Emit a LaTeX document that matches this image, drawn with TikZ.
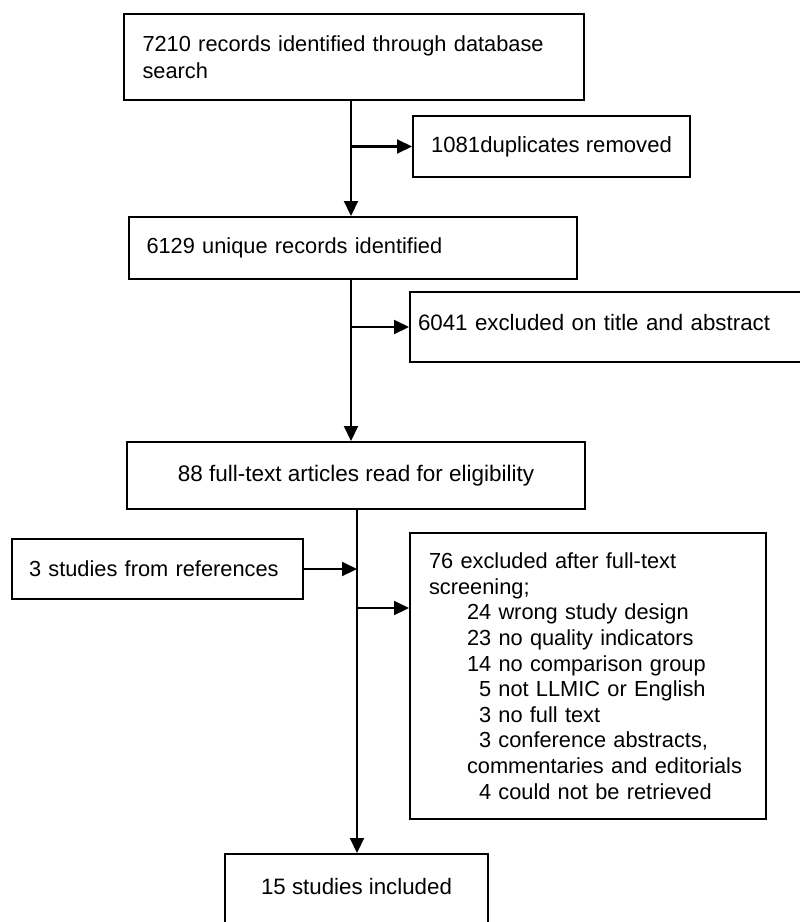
\documentclass[tikz,border=0pt]{standalone}
\usepackage{fontspec}
\setmainfont{Liberation Sans}
\usepackage{tikz}
\usetikzlibrary{arrows.meta}
\tikzstyle{es} = [-{Triangle[length=15pt,width=14pt]}, line width=2.1pt]
\tikzstyle{bx} = [draw, line width=2pt, anchor=north west, inner ysep=0pt, font=\fontsize{21.8}{26.5}\selectfont]

\begin{document}
\begin{tikzpicture}[yscale=-1]
			\path[use as bounding box, clip] (0pt,0pt) rectangle (800pt,922pt);
			\node[bx, text width=423pt, inner xsep=18.5pt, align=left, minimum height=86pt] (rec) at (123pt,13pt) {\mbox{7210 records identified through database}\\search};
			\node[bx, inner xsep=0pt, minimum width=277pt, minimum height=61pt, font=\fontsize{22.1}{26.5}\selectfont] (dup) at (412pt,115pt) {1081duplicates removed};
			\node[bx, text width=413pt, inner xsep=17.5pt, align=left, minimum height=62pt] (uniq) at (128pt,216pt) {\mbox{6129 unique records identified}};
			\node[bx, text width=385pt, inner xsep=8pt, align=left, minimum height=70pt, text depth=10pt, font=\fontsize{22.3}{26.5}\selectfont] (exta) at (409pt,291pt) {\mbox{6041 excluded on title and abstract}};
			\node[bx, inner xsep=0pt, minimum width=458pt, minimum height=67pt, font=\fontsize{22.5}{26.5}\selectfont] (full) at (126pt,441pt) {88 full-text articles read for eligibility};
			\node[bx, text width=257pt, inner xsep=17pt, align=left, minimum height=60pt] (refs) at (11pt,538pt) {\mbox{3 studies from references}};
			\node[bx, text width=318pt, inner xsep=19pt, align=left, minimum height=286pt, font=\fontsize{21.8}{25.6}\selectfont] (extb) at (409pt,532pt) {\mbox{76 excluded after full-text}\\screening;\\
				\hspace*{38pt}\mbox{24 wrong study design}\\
				\hspace*{38pt}\mbox{23 no quality indicators}\\
				\hspace*{38pt}\mbox{14 no comparison group}\\
				\hspace*{50pt}\mbox{5 not LLMIC or English}\\
				\hspace*{50pt}\mbox{3 no full text}\\
				\hspace*{50pt}\mbox{3 conference abstracts,}\\
				\hspace*{38pt}\mbox{commentaries and editorials}\\
				\hspace*{50pt}\mbox{4 could not be retrieved}};
			\node[bx, inner xsep=0pt, minimum width=263pt, minimum height=80pt, text depth=16pt, font=\fontsize{22.3}{26.5}\selectfont] (incl) at (224pt,853pt) {15 studies included};
			\coordinate (ta) at (351pt,0pt);
			\coordinate (tb) at (357pt,0pt);
			\coordinate (extbin) at (409pt,608pt);
			\draw[es] (rec.south -| ta) -- (uniq.north -| ta);
			\draw[es] (ta |- dup.west) -- (dup.west);
			\draw[es] (uniq.south -| ta) -- (full.north -| ta);
			\draw[es] (ta |- exta.west) -- (exta.west);
			\draw[es] (full.south -| tb) -- (incl.north -| tb);
			\draw[es] (refs.east) -- (refs.east -| tb);
			\draw[es] (tb |- extbin) -- (extbin);
		\end{tikzpicture}
\end{document}
